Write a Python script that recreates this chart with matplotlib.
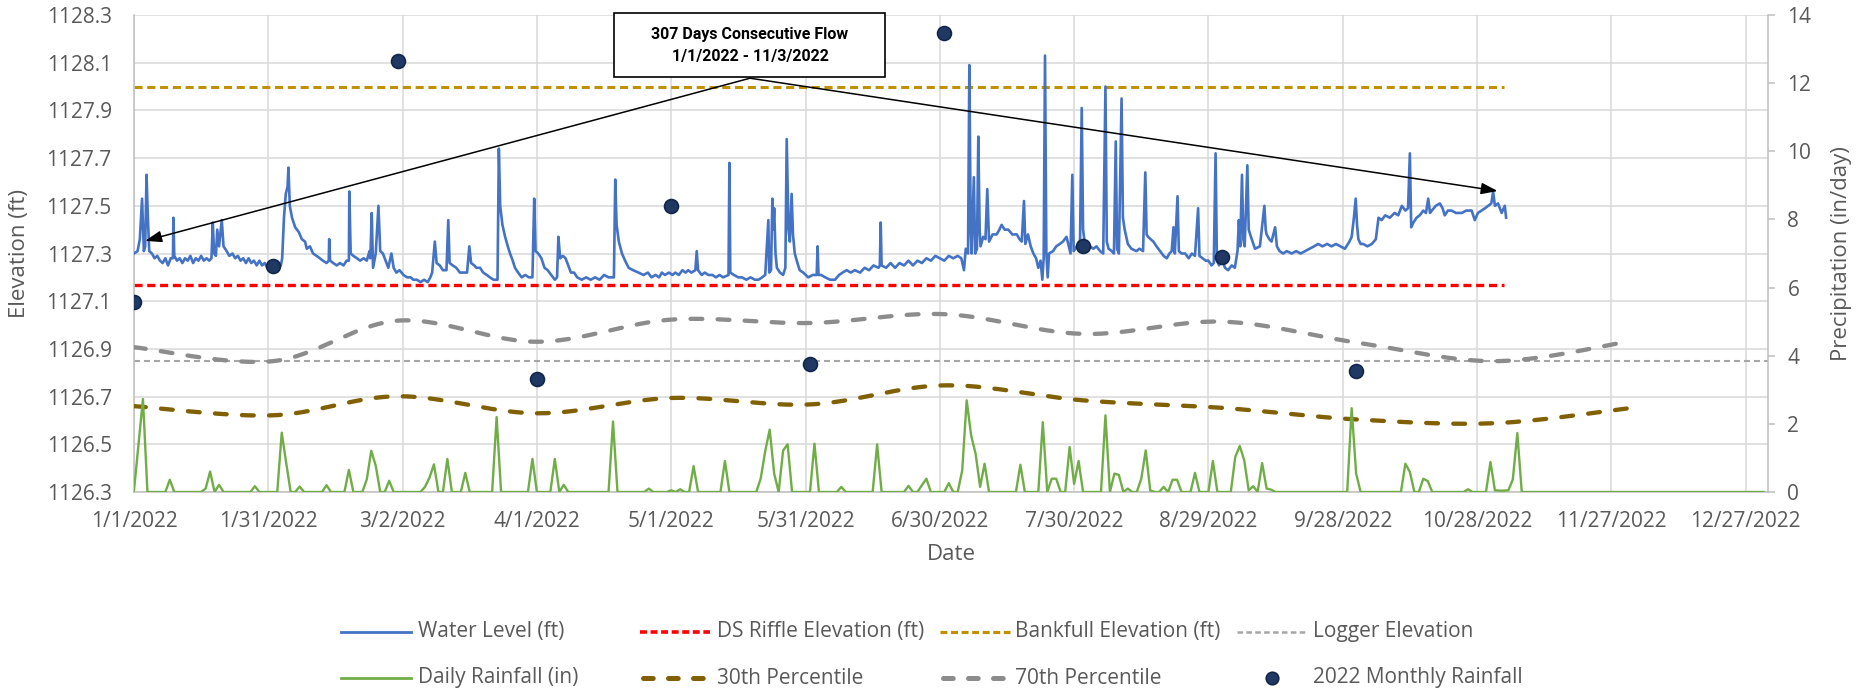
import numpy as np
import pandas as pd
import matplotlib
matplotlib.use('Agg')
import matplotlib.pyplot as plt
import matplotlib.dates as mdates
from matplotlib.lines import Line2D
from matplotlib.patches import Rectangle
from matplotlib import font_manager as fm

plt.rcParams['font.family'] = ['Open Sans', 'DejaVu Sans']
plt.rcParams['lines.scale_dashes'] = False

# ---------------- DATA ----------------
START = pd.Timestamp('2022-01-01')

x_tick_labels = ['1/1/2022', '1/31/2022', '3/2/2022', '4/1/2022', '5/1/2022', '5/31/2022',
                 '6/30/2022', '7/30/2022', '8/29/2022', '9/28/2022', '10/28/2022',
                 '11/27/2022', '12/27/2022']
left_ticks = [1126.3, 1126.5, 1126.7, 1126.9, 1127.1, 1127.3, 1127.5, 1127.7, 1127.9, 1128.1, 1128.3]
right_ticks = [0, 2, 4, 6, 8, 10, 12, 14]

# Water level (days since 1/1/2022, elevation ft)
wl_day = [0, 0.8, 1.3, 1.8, 2.2, 2.5, 2.8, 3.1, 3.4, 4.0, 4.6, 5.2, 5.8, 6.4, 7.0, 7.6, 8.2, 8.7, 8.8, 9.0,
          9.6, 10.2, 10.8, 11.4, 12.0, 12.6, 13.2, 13.8, 14.4, 15.0, 15.6, 16.2, 16.8, 17.3, 17.6, 17.9,
          18.3, 18.6, 19.0, 19.6, 20.0, 20.7, 21.3, 22.0, 22.6, 23.2, 23.8, 24.4, 25.0, 25.6, 26.2, 26.8,
          27.4, 28.0, 28.6, 29.2, 29.8, 30.4, 31.0, 31.6, 32.2, 32.8, 33.1, 33.5, 33.9, 34.3, 34.5, 34.8,
          35.3, 36.0, 36.8, 37.5, 38.2, 38.6, 39.3, 40.0, 40.8, 41.5, 42.2, 43.0, 43.5, 43.6, 43.8, 44.5,
          45.3, 46.0, 46.8, 47.5, 48.0, 48.1, 48.4, 49.0, 49.8, 50.5, 51.3, 52.0, 52.6, 52.8, 53.1, 53.4,
          54.0, 54.6, 55.0, 55.6, 56.2, 56.8, 57.5, 58.0, 58.6, 59.3, 60.2, 61.0, 61.8, 62.4, 63.2, 64.0,
          64.8, 65.6, 66.2, 66.6, 67.2, 67.6, 68.3, 69.0, 69.8, 70.2, 70.5, 71.2, 72.0, 72.8, 73.6, 74.4,
          74.9, 75.3, 76.0, 76.5, 77.3, 78.0, 78.8, 79.5, 80.3, 81.2, 81.5, 81.8, 82.3, 82.9, 83.5, 84.0,
          84.6, 85.1, 85.8, 86.6, 87.4, 88.2, 89.0, 89.4, 89.7, 90.3, 91.0, 91.7, 92.4, 93.2, 94.0, 94.5,
          94.8, 95.2, 95.8, 96.4, 97.0, 97.6, 98.3, 99.0, 100.0, 101.0, 102.0, 103.0, 104.0, 105.0, 106.0,
          107.2, 107.5, 107.8, 108.3, 109.0, 109.7, 110.5, 111.5, 112.7, 113.8, 114.8, 115.6, 116.5, 117.3,
          117.9, 118.6, 119.5, 120.3, 120.9, 121.7, 122.5, 123.2, 123.8, 124.5, 125.4, 125.7, 126.0, 126.8,
          127.5, 128.3, 129.2, 130.0, 130.8, 131.6, 132.8, 133.0, 133.2, 134.0, 135.0, 135.8, 136.8, 137.7,
          138.7, 139.5, 140.3, 141.0, 141.7, 141.9, 142.3, 142.6, 142.8, 143.0, 143.3, 143.6, 144.3, 145.0,
          145.5, 145.8, 146.2, 146.5, 146.9, 147.2, 147.6, 148.2, 148.7, 149.5, 150.6, 151.6, 152.5, 152.7,
          152.9, 153.5, 154.4, 155.5, 156.6, 157.5, 158.3, 159.2, 160.1, 161.0, 162.2, 163.2, 164.2, 165.2,
          166.3, 166.6, 166.8, 167.0, 168.0, 169.0, 170.0, 171.0, 172.0, 173.0, 174.0, 175.0, 176.0, 177.0,
          178.0, 179.0, 180.0, 181.0, 182.0, 183.0, 184.0, 184.8, 185.4, 185.8, 186.3, 186.6, 186.9, 187.1,
          187.6, 187.9, 188.3, 188.6, 188.9, 189.1, 189.7, 190.2, 190.6, 191.0, 191.8, 192.7, 193.3, 193.8,
          194.5, 195.3, 196.2, 197.2, 197.8, 198.3, 198.8, 199.1, 199.7, 200.3, 200.9, 201.5, 202.0, 202.5,
          202.9, 203.2, 203.5, 203.8, 204.1, 204.4, 205.3, 206.0, 206.8, 207.5, 208.3, 208.8, 209.2, 209.6,
          209.9, 210.6, 211.3, 211.7, 212.0, 212.4, 213.5, 214.3, 215.0, 215.8, 216.5, 217.0, 217.3, 217.7,
          218.4, 218.9, 219.3, 219.6, 220.0, 220.6, 220.9, 221.3, 222.0, 222.8, 223.9, 224.6, 225.4, 225.9,
          226.2, 226.5, 227.1, 227.7, 228.4, 229.2, 230.0, 230.7, 231.3, 231.8, 232.2, 232.5, 233.1, 233.4,
          234.0, 234.8, 235.6, 236.3, 237.0, 237.7, 238.0, 238.7, 239.4, 240.0, 240.7, 241.2, 241.6, 241.9,
          242.4, 243.0, 243.7, 244.4, 245.2, 245.9, 246.5, 246.8, 247.1, 247.5, 247.8, 248.1, 248.7, 249.0,
          249.5, 250.4, 251.5, 252.5, 252.8, 253.0, 253.6, 254.1, 254.9, 255.3, 255.9, 256.7, 257.5, 258.6,
          259.6, 260.6, 261.6, 262.6, 263.6, 264.5, 265.5, 266.5, 267.5, 268.5, 269.5, 270.5, 271.5, 272.0,
          272.5, 272.9, 273.2, 273.5, 274.0, 274.6, 275.5, 276.5, 277.4, 278.0, 278.7, 279.5, 280.5, 281.6,
          282.4, 283.2, 284.0, 284.6, 285.0, 285.3, 285.8, 286.5, 287.2, 288.0, 288.6, 289.1, 289.5, 289.9,
          290.8, 291.7, 292.3, 292.8, 293.5, 294.3, 295.3, 296.6, 297.6, 298.8, 299.5, 300.2, 301.0, 301.8,
          302.5, 303.2, 303.6, 304.0, 304.7, 305.5, 306.2, 306.5]
wl_ft = [1127.30, 1127.31, 1127.36, 1127.53, 1127.31, 1127.33, 1127.63, 1127.45, 1127.31, 1127.30, 1127.28,
         1127.29, 1127.27, 1127.26, 1127.28, 1127.25, 1127.28, 1127.28, 1127.45, 1127.29, 1127.27, 1127.28,
         1127.26, 1127.28, 1127.27, 1127.29, 1127.26, 1127.28, 1127.27, 1127.29, 1127.27, 1127.28, 1127.27,
         1127.28, 1127.43, 1127.30, 1127.29, 1127.40, 1127.33, 1127.44, 1127.33, 1127.31, 1127.29, 1127.30,
         1127.28, 1127.29, 1127.27, 1127.28, 1127.26, 1127.28, 1127.26, 1127.27, 1127.25, 1127.27, 1127.25,
         1127.26, 1127.24, 1127.25, 1127.26, 1127.24, 1127.26, 1127.25, 1127.28, 1127.45, 1127.55, 1127.58,
         1127.66, 1127.50, 1127.45, 1127.41, 1127.39, 1127.36, 1127.35, 1127.32, 1127.33, 1127.30, 1127.29,
         1127.28, 1127.27, 1127.26, 1127.27, 1127.36, 1127.27, 1127.26, 1127.25, 1127.26, 1127.25, 1127.27,
         1127.27, 1127.56, 1127.30, 1127.29, 1127.28, 1127.27, 1127.28, 1127.27, 1127.31, 1127.28, 1127.47,
         1127.24, 1127.30, 1127.50, 1127.31, 1127.30, 1127.27, 1127.24, 1127.30, 1127.24, 1127.22, 1127.23,
         1127.21, 1127.20, 1127.20, 1127.19, 1127.19, 1127.18, 1127.19, 1127.18, 1127.20, 1127.22, 1127.35,
         1127.26, 1127.25, 1127.23, 1127.23, 1127.44, 1127.26, 1127.25, 1127.24, 1127.22, 1127.22, 1127.22,
         1127.33, 1127.26, 1127.25, 1127.24, 1127.24, 1127.22, 1127.21, 1127.20, 1127.19, 1127.19, 1127.74,
         1127.50, 1127.42, 1127.37, 1127.33, 1127.30, 1127.27, 1127.24, 1127.22, 1127.20, 1127.21, 1127.20,
         1127.20, 1127.53, 1127.31, 1127.30, 1127.28, 1127.24, 1127.23, 1127.21, 1127.19, 1127.20, 1127.37,
         1127.28, 1127.29, 1127.28, 1127.25, 1127.22, 1127.22, 1127.20, 1127.19, 1127.20, 1127.19, 1127.20,
         1127.19, 1127.21, 1127.20, 1127.20, 1127.61, 1127.42, 1127.35, 1127.30, 1127.27, 1127.24, 1127.23,
         1127.22, 1127.21, 1127.22, 1127.20, 1127.21, 1127.20, 1127.22, 1127.21, 1127.22, 1127.21, 1127.22,
         1127.21, 1127.23, 1127.22, 1127.23, 1127.22, 1127.23, 1127.31, 1127.23, 1127.21, 1127.22, 1127.21,
         1127.21, 1127.20, 1127.21, 1127.20, 1127.21, 1127.68, 1127.22, 1127.21, 1127.20, 1127.20, 1127.19,
         1127.20, 1127.19, 1127.19, 1127.20, 1127.21, 1127.44, 1127.22, 1127.23, 1127.53, 1127.40, 1127.49,
         1127.30, 1127.24, 1127.22, 1127.21, 1127.24, 1127.78, 1127.40, 1127.35, 1127.55, 1127.38, 1127.30,
         1127.26, 1127.23, 1127.22, 1127.20, 1127.21, 1127.21, 1127.33, 1127.21, 1127.21, 1127.20, 1127.19,
         1127.19, 1127.21, 1127.22, 1127.23, 1127.22, 1127.23, 1127.22, 1127.24, 1127.23, 1127.25, 1127.24,
         1127.25, 1127.43, 1127.25, 1127.24, 1127.26, 1127.24, 1127.26, 1127.25, 1127.27, 1127.25, 1127.27,
         1127.26, 1127.28, 1127.27, 1127.29, 1127.28, 1127.27, 1127.29, 1127.28, 1127.29, 1127.28, 1127.23,
         1127.32, 1127.30, 1128.09, 1127.40, 1127.30, 1127.62, 1127.30, 1127.32, 1127.79, 1127.40, 1127.33,
         1127.37, 1127.36, 1127.57, 1127.35, 1127.38, 1127.38, 1127.40, 1127.42, 1127.40, 1127.40, 1127.38,
         1127.38, 1127.36, 1127.35, 1127.52, 1127.34, 1127.38, 1127.33, 1127.30, 1127.28, 1127.24, 1127.27,
         1127.19, 1127.28, 1128.13, 1127.30, 1127.20, 1127.30, 1127.31, 1127.33, 1127.34, 1127.35, 1127.37,
         1127.33, 1127.30, 1127.63, 1127.31, 1127.33, 1127.32, 1127.91, 1127.40, 1127.34, 1127.33, 1127.32,
         1127.33, 1127.31, 1127.30, 1128.00, 1127.35, 1127.32, 1127.31, 1127.30, 1127.77, 1127.32, 1127.30,
         1127.95, 1127.45, 1127.40, 1127.34, 1127.32, 1127.31, 1127.32, 1127.31, 1127.64, 1127.38, 1127.37,
         1127.36, 1127.35, 1127.33, 1127.31, 1127.29, 1127.28, 1127.30, 1127.31, 1127.41, 1127.30, 1127.54,
         1127.31, 1127.30, 1127.30, 1127.28, 1127.30, 1127.29, 1127.49, 1127.29, 1127.28, 1127.27, 1127.27,
         1127.25, 1127.26, 1127.72, 1127.27, 1127.25, 1127.28, 1127.24, 1127.23, 1127.25, 1127.24, 1127.31,
         1127.44, 1127.33, 1127.63, 1127.36, 1127.33, 1127.67, 1127.40, 1127.37, 1127.32, 1127.33, 1127.50,
         1127.40, 1127.38, 1127.36, 1127.35, 1127.41, 1127.33, 1127.31, 1127.30, 1127.31, 1127.30, 1127.31,
         1127.30, 1127.31, 1127.32, 1127.33, 1127.34, 1127.33, 1127.34, 1127.33, 1127.34, 1127.33, 1127.32,
         1127.35, 1127.37, 1127.45, 1127.53, 1127.42, 1127.36, 1127.34, 1127.34, 1127.33, 1127.34, 1127.36,
         1127.45, 1127.44, 1127.46, 1127.45, 1127.47, 1127.46, 1127.50, 1127.48, 1127.49, 1127.72, 1127.41,
         1127.43, 1127.45, 1127.46, 1127.48, 1127.47, 1127.53, 1127.47, 1127.48, 1127.50, 1127.51, 1127.49,
         1127.46, 1127.48, 1127.48, 1127.47, 1127.47, 1127.48, 1127.48, 1127.44, 1127.47, 1127.48, 1127.49,
         1127.50, 1127.51, 1127.56, 1127.50, 1127.51, 1127.47, 1127.50, 1127.45]

# Daily rainfall (in/day): day-of-year index (0 = 1/1/2022) and value; all other days of 2022 are 0
rain_day = [0, 1, 2, 8, 16, 17, 19, 27, 33, 34, 37, 43, 48, 52, 53, 54, 57, 65, 66, 67, 70, 74,
            81, 89, 94, 96, 107, 115, 120, 122, 125, 132, 140, 141, 142, 143, 145, 146, 152, 158,
            166, 173, 176, 177, 182, 185, 186, 187, 188, 189, 190, 198, 203, 205, 206, 209, 210,
            211, 217, 219, 220, 222, 225, 226, 227, 230, 232, 233, 237, 241, 246, 247, 248, 249,
            250, 252, 253, 254, 272, 273, 284, 285, 288, 289, 298, 303, 304, 305, 306, 307, 308, 309]
rain_in = [0.05, 1.40, 2.73, 0.36, 0.10, 0.60, 0.21, 0.17, 1.74, 0.85, 0.16, 0.20, 0.65, 0.37, 1.21,
           0.77, 0.33, 0.15, 0.42, 0.81, 0.97, 0.56, 2.20, 0.97, 0.97, 0.21, 2.07, 0.10, 0.05, 0.08,
           0.76, 0.91, 0.40, 1.20, 1.83, 0.54, 1.22, 1.40, 1.42, 0.15, 1.40, 0.18, 0.20, 0.39, 0.26,
           0.63, 2.69, 1.66, 1.12, 0.15, 0.83, 0.80, 2.05, 0.39, 0.39, 1.32, 0.24, 0.91, 2.25, 0.54,
           0.50, 0.10, 0.39, 1.22, 0.05, 0.15, 0.36, 0.36, 0.56, 0.91, 1.03, 1.35, 0.93, 0.05, 0.17,
           0.85, 0.10, 0.07, 2.46, 0.54, 0.83, 0.59, 0.39, 0.32, 0.08, 0.88, 0.05, 0.04, 0.04, 0.05,
           0.37, 1.73]

# Monthly series (first of month)
month_dates = ['2022-01-01', '2022-02-01', '2022-03-01', '2022-04-01', '2022-05-01', '2022-06-01',
               '2022-07-01', '2022-08-01', '2022-09-01', '2022-10-01', '2022-11-01', '2022-12-01']
pct30 = [2.52, 2.25, 2.81, 2.31, 2.76, 2.57, 3.13, 2.69, 2.47, 2.13, 2.02, 2.46]
pct70 = [4.25, 3.84, 5.03, 4.41, 5.06, 4.96, 5.22, 4.64, 5.00, 4.39, 3.84, 4.42]
monthly_rain = [5.57, 6.62, 12.65, 3.32, 8.40, 3.76, 13.48, 7.23, 6.90, 3.54]

ds_riffle = 1127.17
bankfull = 1128.00
logger_elev = 1126.85
flow_start, flow_end = '2022-01-01', '2022-11-03'

# ---------------- FIGURE ----------------
W, H = 1871, 692
fig = plt.figure(figsize=(W / 100, H / 100), dpi=100)
ax1 = fig.add_axes([134 / W, 1 - 492 / H, (1768 - 134) / W, (492 - 15) / H])
ax2 = ax1.twinx()
TXT = '#595959'
GRID = '#D9D9D9'
AX = '#BFBFBF'


def days_to_dates(d):
    return START + pd.to_timedelta(np.asarray(d, float), unit='D')


def smooth(xd, y, n=30):
    x = np.asarray(xd, float)
    y = np.asarray(y, float)
    P = np.column_stack([x, y])
    P = np.vstack([P[0], P, P[-1]])
    out = []
    t = np.linspace(0, 1, n, endpoint=False)[:, None]
    for i in range(1, len(P) - 2):
        p0, p1, p2, p3 = P[i - 1], P[i], P[i + 1], P[i + 2]
        seg = 0.5 * ((2 * p1) + (-p0 + p2) * t + (2 * p0 - 5 * p1 + 4 * p2 - p3) * t ** 2
                     + (-p0 + 3 * p1 - 3 * p2 + p3) * t ** 3)
        out.append(seg)
    out.append(P[-2][None, :])
    return np.vstack(out)


# grid
ax1.set_ylim(1126.3, 1128.3)
ax1.set_yticks(left_ticks)
ax1.set_yticklabels([f'{v:.1f}' for v in left_ticks])
xt = pd.date_range(START, periods=len(x_tick_labels), freq='30D')
ax1.set_xticks(xt)
ax1.set_xticklabels(x_tick_labels)
ax1.set_xlim(START, START + pd.Timedelta(days=365))
ax1.grid(True, color=GRID, lw=1.1)
ax1.set_axisbelow(True)

# left-axis series
ax1.plot(days_to_dates(wl_day), wl_ft, color='#4472C4', lw=1.9, zorder=3)
fs, fe = pd.Timestamp(flow_start), pd.Timestamp(flow_end)
ax1.plot([fs, fe], [ds_riffle, ds_riffle], color='#FF0000', lw=2.4,
         ls=(0, (5.8, 3.4)), dash_capstyle='butt', zorder=2)
ax1.plot([fs, fe], [bankfull, bankfull], color='#BF9000', lw=2.2,
         ls=(0, (5.8, 3.4)), dash_capstyle='butt', zorder=2)
ax1.plot([START, START + pd.Timedelta(days=365)], [logger_elev, logger_elev], color='#A6A6A6',
         lw=1.5, ls=(0, (4.3, 2.9)), dash_capstyle='butt', zorder=2)

# right-axis series
ax2.set_ylim(0, 14)
ax2.set_yticks(right_ticks)
rain_full = np.zeros(365)
rain_full[np.array(rain_day)] = rain_in
ax2.plot(days_to_dates(np.arange(365)), rain_full, color='#70AD47', lw=1.7, zorder=3)
md = (pd.to_datetime(month_dates) - START).days.values.astype(float)
for vals, col in [(pct30, '#806000'), (pct70, '#8C8C8C')]:
    s = smooth(md, vals)
    ax2.plot(days_to_dates(s[:, 0]), s[:, 1], color=col, lw=3.1, ls=(0, (8.5, 11.0)),
             dash_capstyle='round', zorder=2)
ax2.plot(pd.to_datetime(month_dates[:len(monthly_rain)]), monthly_rain, ls='none', marker='o',
         ms=10, mfc='#203864', mec='#13254A', mew=1.2, zorder=5)

# spines & ticks
for a in (ax1, ax2):
    for sp in a.spines.values():
        sp.set_visible(False)
ax1.spines['left'].set_visible(True)
ax1.spines['left'].set_color(AX)
ax1.spines['left'].set_linewidth(1.1)
ax1.spines['bottom'].set_visible(True)
ax1.spines['bottom'].set_color(AX)
ax1.spines['bottom'].set_linewidth(1.1)
ax2.spines['right'].set_visible(True)
ax2.spines['right'].set_color(AX)
ax2.spines['right'].set_linewidth(1.1)
ax1.tick_params(axis='y', length=0, pad=16, labelsize=15, labelcolor=TXT)
ax1.tick_params(axis='x', length=0, pad=14, labelsize=15, labelcolor=TXT)
ax2.tick_params(axis='y', length=5, width=1.1, color=AX, pad=9, labelsize=15, labelcolor=TXT)

ax1.set_ylabel('Elevation (ft)', fontsize=16, color=TXT, labelpad=12)
ax2.set_ylabel('Precipitation (in/day)', fontsize=16, color=TXT, labelpad=14)
ax1.set_xlabel('Date', fontsize=16, color=TXT, labelpad=8)

# annotation box + arrows
names = {f.name for f in fm.fontManager.ttflist}
if 'Liberation Sans Narrow' in names:
    box_family, box_size = ['Liberation Sans Narrow', 'DejaVu Sans'], 13.5
else:
    box_family, box_size = ['Roboto', 'DejaVu Sans'], 11.5
box = Rectangle((614 / W, 1 - 77 / H), 271 / W, 64 / H, transform=fig.transFigure,
                facecolor='white', edgecolor='black', lw=1.2, zorder=6)
fig.add_artist(box)
fig.text(750 / W, 1 - 35 / H, '307 Days Consecutive Flow', ha='center', va='center',
         family=box_family, size=box_size, weight='bold', color='black', zorder=7)
fig.text(750 / W, 1 - 57 / H, '1/1/2022 - 11/3/2022', ha='center', va='center',
         family=box_family, size=box_size, weight='bold', color='black', zorder=7)


def dnum(days):
    return mdates.date2num(START + pd.Timedelta(days=days))


origin = (dnum(137.6), 1128.035)
for tip in [(dnum(2.5), 1127.353), (dnum(304.6), 1127.562)]:
    ax2.annotate('', xy=tip, xycoords=ax1.transData, xytext=origin, textcoords=ax1.transData,
                 arrowprops=dict(arrowstyle='-|>,head_length=1.0,head_width=0.35', color='black',
                                 lw=1.1, shrinkA=0, shrinkB=0), zorder=8)


# legend (manual, figure pixels)
def fy(y):
    return 1 - y / H


legend_rows = [
    [(341, 'Water Level (ft)', dict(color='#4472C4', lw=2.0), 70),
     (640, 'DS Riffle Elevation (ft)', dict(color='#FF0000', lw=2.6, ls=(0, (5.0, 2.6))), 70),
     (940, 'Bankfull Elevation (ft)', dict(color='#BF9000', lw=2.3, ls=(0, (5.0, 2.6))), 70),
     (1237, 'Logger Elevation', dict(color='#A6A6A6', lw=1.8, ls=(0, (4.0, 2.4))), 70)],
    [(341, 'Daily Rainfall (in)', dict(color='#70AD47', lw=2.0), 70),
     (643, '30th Percentile', dict(color='#806000', lw=3.6, ls=(0, (7.0, 11.0)),
                                  dash_capstyle='round'), 64),
     (943, '70th Percentile', dict(color='#8C8C8C', lw=3.6, ls=(0, (7.0, 11.0)),
                                  dash_capstyle='round'), 64),
     (1237, '2022 Monthly Rainfall', None, 0)],
]
for ry, row in zip([632, 678], legend_rows):
    for x0, label, style, ln in row:
        if style is None:
            fig.add_artist(Line2D([1272 / W], [fy(ry)], transform=fig.transFigure, ls='none',
                                  marker='o', ms=9, mfc='#203864', mec='#13254A', mew=1.2))
            fig.text(1313 / W, fy(ry), label, ha='left', va='center', fontsize=15, color=TXT)
        else:
            fig.add_artist(Line2D([x0 / W, (x0 + ln) / W], [fy(ry), fy(ry)],
                                  transform=fig.transFigure, **style))
            tx = 418 if x0 == 341 else (717 if x0 < 900 else (1015 if x0 < 1200 else 1313))
            fig.text(tx / W, fy(ry), label, ha='left', va='center', fontsize=15, color=TXT)

fig.savefig('out.png', dpi=100, facecolor='white')
